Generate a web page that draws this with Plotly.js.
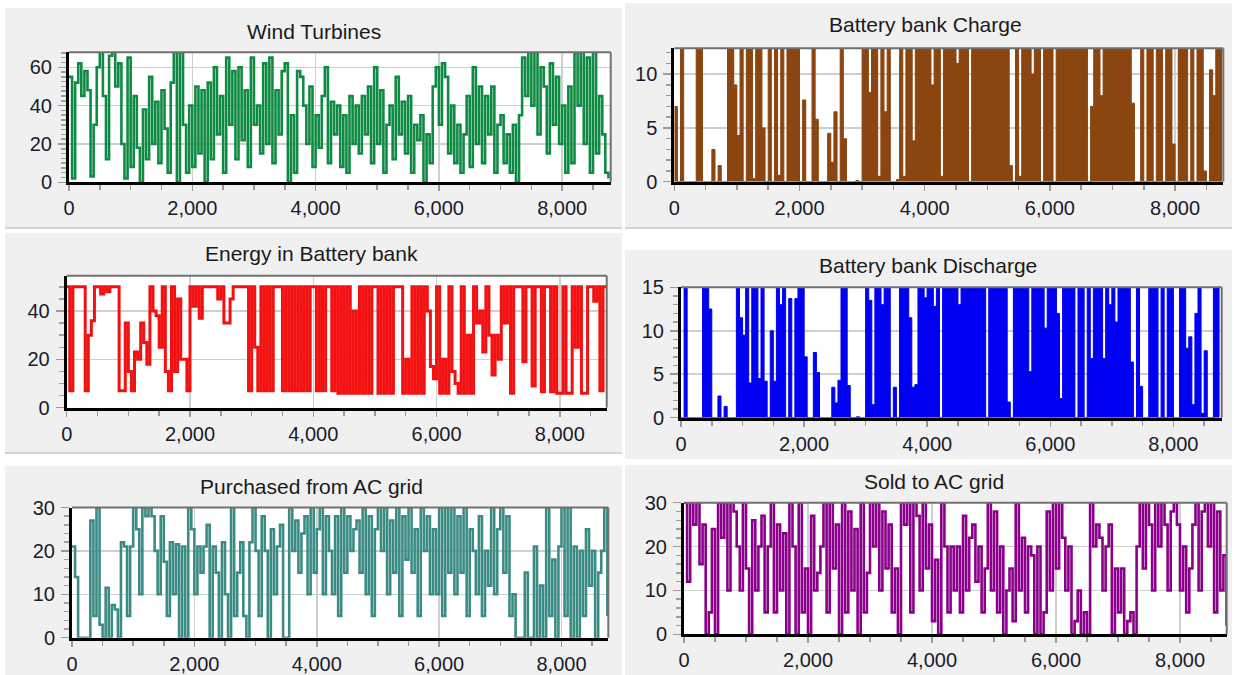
<!DOCTYPE html>
<html><head><meta charset="utf-8">
<script src="https://cdn.plot.ly/plotly-3.0.1.min.js"></script>
<style>html,body{margin:0;padding:0;background:#fff;}#chart{width:1234px;height:675px;}</style>
</head><body><div id="chart"></div>
<script>
const HOUR_STEP = 50;

const windTurbines = [
 55,2,52,62,45, 58,48,3,30,60, 68,45,12,66,68, 50,62,20,2,65, 8,45,18,0,38,
 12,55,20,42,10, 48,28,5,52,68, 0,68,30,5,40, 8,50,15,48,0, 52,12,60,25,45,
 5,65,30,58,12, 60,22,48,8,65, 30,40,15,62,20, 65,10,48,25,58, 62,0,35,5,58,
 55,40,20,50,8, 35,18,45,60,10, 42,25,40,8,35, 5,45,20,40,15, 45,25,50,10,60,
 20,48,5,30,40, 12,55,25,42,15, 45,5,30,22,35, 0,25,10,50,60, 30,62,55,15,40,
 10,30,5,25,45, 8,60,20,50,10, 45,25,50,5,30, 35,10,25,5,30, 0,35,65,45,68,
 40,68,25,60,50, 15,62,30,55,20, 40,5,50,10,68, 40,68,20,65,5, 68,15,45,25,5, 2
];

const batteryCharge = [
 7,0,14,0,0,0,0,14,14,0, 0,0,3,0,1.5,0,0,14,14,9,
 4.3,14,0,14,14,0.3,14,14,5,0, 14,0,14,0.6,14,0,14,14,14,14,
 0,7.6,0,0,14,5.8,0,0,0,4.5, 1.8,6.5,0,14,4,0,0,0,0.1,0,
 14,14,8.3,14,14,0.5,14,6.5,14,0, 0,0.2,14,0.5,14,14,3.8,14,14,14,
 14,14,9,14,14,0.5,14,14,14,14, 11,14,14,14,0,14,14,14,14,14,
 14,14,14,14,14,14,14,1.5,0,14, 0.5,14,14,14,10,14,14,0,14,14,
 14,0,14,14,14,14,14,14,14,14, 14,14,0,7,14,14,8,14,14,14,
 14,14,14,14,14,14,7.3,0,0,14, 0,14,14,0,14,14,0,14,14,3.5,
 0,14,14,14,0,14,0,14,14,1, 0,10.4,8,14,14,14
];

const energyInBattery = [
 50,7,50,50,50,50,7,30,36,50, 50,47,50,48,50,50,50,7,7,35,
 15,7,23,20,35,27,18,50,40,38, 25,50,15,7,50,15,45,20,20,7,
 50,42,50,37,50,50,50,50,50,45, 50,35,35,45,50,50,50,50,50,7,
 50,25,7,50,7,50,7,50,50,50, 7,50,7,50,7,50,7,50,7,50,
 50,7,50,7,50,50,7,50,6,50, 6,50,6,40,6,50,6,50,6,50,
 50,6,50,6,50,6,50,50,50,6, 20,6,50,6,50,6,50,40,17,12,
 50,6,20,6,50,15,10,6,50,6, 30,6,50,35,40,23,50,30,13.5,30,
 20,50,35,50,6,50,50,50,19,50, 50,9,50,50,6.6,50,50,6.6,50,6,
 6,50,6,6,50,25,50,6,6,50, 50,44,50,7,50,50
];

const batteryDischarge = [
 0,15,0,0,0,0,0,15,15,12.5, 0,0,2.5,0,1.3,0,0,0,15,11.5,
 9.5,15,4,15,15,4.5,15,4.2,0,10, 4.2,15,13,15,0,13.7,0,13.7,15,15,
 7,0,0,7.5,5.2,0,0,0,0,3.5, 1.7,4.3,15,15,3.7,0,0,0.1,0,0,
 15,13.5,1.5,15,15,13,15,15,0,3.5, 0,15,15,15,11.5,3.5,3.8,15,15,13.8,
 15,15,12.8,15,0,15,15,15,15,15, 13,15,15,15,15,15,15,15,15,0,
 15,15,15,15,15,15,1.8,0,15,15, 15,15,15,5.3,15,15,15,15,10.3,15,
 15,15,12,2.2,15,15,15,15,0,15, 15,0,15,6.8,15,15,15,6.8,15,13,
 15,11,15,15,15,15,6.4,0,15,3.6, 0,0,15,15,15,0,15,0,15,15,
 0,0,15,15,8,9.3,1.5,12,15,0.5, 7.7,0,0,15,15,15
];

const purchasedFromGrid = [
 21,14,0,0,0,0,27,5,30,3, 0,11.5,0,7.5,6.5,0,22,21,5,21,
 30,25,10,30,28,30,28,20,10,28, 17.5,5,22,10,21.5,0,21,0,30,25,
 10,21,15,21,26,0,21,15,0,22, 10,0,30,5,15,22,5,0,22,30,
 20,5,28,20,0,25,10,21,26,0, 0,30,20,27,15,24,28,10,30,15,
 25,30,10,28,20,10,28,5,30,15, 28,20,25,27,15,30,10,28,5,25,
 30,20,30,10,27,15,30,5,28,18, 30,15,25,5,30,20,28,10,25,10,
 30,5,30,15,30,10,28,15,30,5, 25,20,10,28,5,20,12,30,10,25,
 30,15,28,5,10,0,0,0,15,0, 0,21,0,12,0,30,5,18,0,21,
 30,5,30,0,21,0,20,5,25,12, 20,0,15,20,30,5
];

const soldToGrid = [
 30,12,30,25,30,16,25,0,5,24, 0,30,22,30,10,30,28,20,10,30,
 15,0,26,10,20,27,5,20,30,5, 25,10,23,0,30,20,0,30,5,15,
 0,27,10,14,20,30,5,30,15,25, 0,30,5,28,10,24,0,30,5,14,
 30,20,30,10,28,15,25,5,15,0, 30,25,30,5,30,27,10,30,15,25,
 3,17,0,30,20,5,20,10,20,5, 27,10,22,25,12,20,5,15,30,10,
 28,5,20,0,10,15,3,30,10,22, 5,20,18,0,20,0,5,28,10,30,
 15,30,22,10,20,0,3,10,0,5, 0,30,20,25,22,10,20,25,0,15,
 5,15,0,3,5,0,20,30,15,30, 25,10,30,20,30,25,10,28,30,25,
 10,20,5,15,25,30,10,28,30,20, 30,5,28,10,18,2
];

const hours = windTurbines.map((_, i) => i * HOUR_STEP);

const W = 1234, H = 675;
const px = x => x / W;
const py = y => 1 - y / H;
const FONT = 'Liberation Sans, Arial, sans-serif';

const panels = [
 {title:'Wind Turbines', y:windTurbines, color:'#0f8a42', kind:'step', lw:2.6,
  xr:[0,8787], yr:[0,67.8], ydt:20, ymin:2.5, plot:[69,52.3,610.7,182.3], bg:[5,8,622,228], t:[314,31], border:true},
 {title:'Battery bank Charge', y:batteryCharge, color:'#8b4510', kind:'fill', lw:1,
  xr:[0,8770], yr:[0,12.4], ydt:5, ymin:1, plot:[674.3,48.3,1223.3,181.7], bg:[625,3,1232,228], t:[925,25], border:true},
 {title:'Energy in Battery bank', y:energyInBattery, color:'#f21010', kind:'step', lw:3,
  xr:[0,8760], yr:[0,54.6], ydt:20, ymin:5, plot:[66.7,275.7,606.7,407.7], bg:[5,233,622,453], t:[312,253], border:true},
 {title:'Battery bank Discharge', y:batteryDischarge, color:'#0000f2', kind:'fill', lw:1,
  xr:[0,8785], yr:[0,15], ydt:5, ymin:1, plot:[681,287.3,1221.7,417.7], bg:[625,250,1232,459], t:[928,266], border:false},
 {title:'Purchased from AC grid', y:purchasedFromGrid, color:'#3b8b85', kind:'step', lw:2.6,
  xr:[0,8765], yr:[0,30], ydt:10, ymin:2, plot:[72,507.5,608.3,637.7], bg:[5,466,622,675], t:[312,486], border:false},
 {title:'Sold to AC grid', y:soldToGrid, color:'#8a008a', kind:'step', lw:2.6,
  xr:[0,8753], yr:[0,30], ydt:10, ymin:2, plot:[684,502.7,1226.7,634.3], bg:[625,465,1232,675], t:[934,481], border:false}
];

const data = [];
const layout = {
  width: W, height: H, margin: {l:0, r:0, t:0, b:0},
  paper_bgcolor: '#ffffff', plot_bgcolor: '#ffffff',
  showlegend: false, shapes: [], annotations: [],
  font: {family: FONT, color: '#1b1b2b'}
};

// grey panel backgrounds first
panels.forEach(p => {
  layout.shapes.push({type:'rect', xref:'paper', yref:'paper', layer:'below',
    x0:px(p.bg[0]), x1:px(p.bg[2]), y0:py(p.bg[3]), y1:py(p.bg[1]),
    fillcolor:'#f0f0f0', line:{width:0}});
  if (p.border) layout.shapes.push({type:'line', xref:'paper', yref:'paper', layer:'below',
    x0:px(p.bg[0]), x1:px(p.bg[2]), y0:py(p.bg[3]), y1:py(p.bg[3]),
    line:{color:'#d4d4d4', width:2}});
});

panels.forEach((p, k) => {
  const n = k + 1, sx = n === 1 ? '' : String(n);
  const xa = 'x' + sx, ya = 'y' + sx;
  const tr = {x: hours, y: p.y, xaxis: xa, yaxis: ya, type: 'scatter', mode: 'lines',
    hoverinfo: 'skip', cliponaxis: true};
  tr.line = {color: p.color, width: p.lw, shape: 'hv'};
  if (p.kind === 'fill') { tr.fill = 'tozeroy'; tr.fillcolor = p.color; }
  data.push(tr);

  const common = {
    showline: true, linecolor: '#000', linewidth: 3, mirror: false,
    ticks: 'outside', tickcolor: '#9a9a9a', tickwidth: 1.5,
    showgrid: true, gridcolor: '#cfcfcf', gridwidth: 1.5, zeroline: false,
    tickfont: {family: FONT, size: 20, color: '#1b1b2b'}, fixedrange: true
  };
  layout['xaxis' + sx] = Object.assign({}, common, {
    domain: [px(p.plot[0]), px(p.plot[2])], range: p.xr, anchor: ya,
    tick0: 0, dtick: 2000, tickformat: ',d', ticklen: 6, ticklabelstandoff: 0,
    minor: {dtick: 500, tick0: 0, ticks: 'outside', ticklen: 5, tickcolor: '#9a9a9a', tickwidth: 1.5, showgrid: false}
  });
  layout['yaxis' + sx] = Object.assign({}, common, {
    domain: [py(p.plot[3]), py(p.plot[1])], range: p.yr, anchor: xa,
    tick0: 0, dtick: p.ydt, ticklen: 8, ticklabelstandoff: 2,
    minor: {dtick: p.ymin, tick0: 0, ticks: 'outside', ticklen: 5, tickcolor: '#a0a0a0', tickwidth: 1.5, showgrid: false}
  });

  // white plot area
  layout.shapes.push({type:'rect', xref: xa + ' domain', yref: ya + ' domain', layer:'below',
    x0:0, x1:1, y0:0, y1:1, fillcolor:'#ffffff', line:{width:0}});
  // grey frame top and right
  layout.shapes.push({type:'line', xref: xa + ' domain', yref: ya + ' domain', layer:'above',
    x0:0, x1:1, y0:1, y1:1, line:{color:'#707070', width:2}});
  layout.shapes.push({type:'line', xref: xa + ' domain', yref: ya + ' domain', layer:'above',
    x0:1, x1:1, y0:0, y1:1, line:{color:'#707070', width:2}});

  layout.annotations.push({text: p.title, xref:'paper', yref:'paper', x:px(p.t[0]), y:py(p.t[1]),
    xanchor:'center', yanchor:'middle', showarrow:false,
    font:{family: FONT, size: 21, color: '#1a1a1a'}});
});

Plotly.newPlot('chart', data, layout, {displayModeBar: false, staticPlot: true});
</script>
</body></html>
